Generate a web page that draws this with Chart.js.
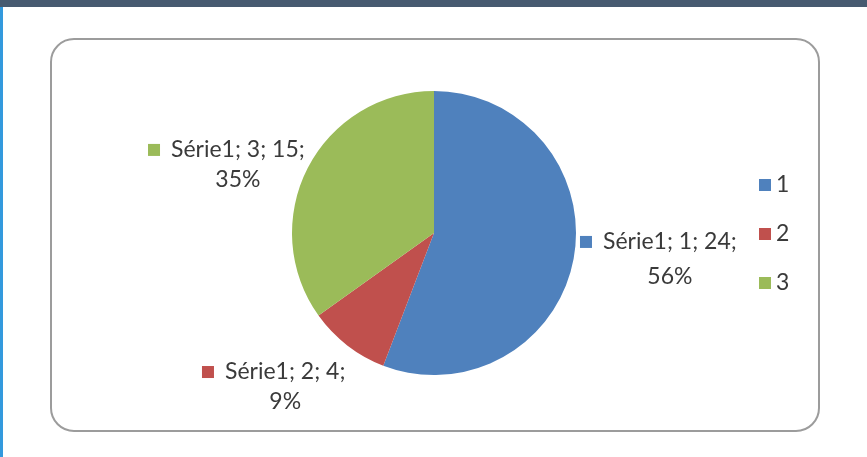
<!DOCTYPE html>
<html>
<head>
<meta charset="utf-8">
<script src="https://cdn.jsdelivr.net/npm/chart.js@4"></script>
<style>
  html,body{margin:0;padding:0;background:#fff;}
  #wrap{position:relative;width:867px;height:457px;overflow:hidden;background:#fff;}
  #topbar{position:absolute;left:0;top:0;width:867px;height:7px;background:#475a70;}
  #side{position:absolute;left:0;top:7px;width:3px;height:450px;background:#3399dd;}
  #frame{position:absolute;left:50px;top:38px;width:766px;height:390px;border:2px solid #9c9c9c;border-radius:24px;}
  canvas{position:absolute;left:0;top:0;}
</style>
</head>
<body>
<div id="wrap">
  <div id="topbar"></div>
  <div id="side"></div>
  <div id="frame"></div>
  <canvas id="chart" width="867" height="457"></canvas>
</div>
<script>
const categories = ["1", "2", "3"];
const values = [24, 4, 15];
const percents = ["56%", "9%", "35%"];
const seriesName = "Série1";
const colors = ["#4f81bd", "#c0504d", "#9bbb59"];

// label anchors relative to pie centre, in units of the radius
const labelPos = [
  { dx: 1.19, dy: 0.063, gap: 35 },
  { dx: -1.472, dy: 0.979, gap: 30 },
  { dx: -1.852, dy: -0.585, gap: 30 }
];

const FONT = "23px Lato";
const TEXT = "#3a3a3a";

const labelPlugin = {
  id: "labels",
  afterDatasetsDraw(chart){
    const ctx = chart.ctx;
    const arcs = chart.getDatasetMeta(0).data;
    ctx.save();
    ctx.font = FONT;
    ctx.textBaseline = "middle";
    arcs.forEach((arc, i)=>{
      const r = arc.outerRadius;
      const lp = labelPos[i];
      const tx = arc.x + lp.dx * r;
      const ty = arc.y + lp.dy * r;
      const line1 = `${seriesName}; ${categories[i]}; ${values[i]};`;
      const w = ctx.measureText(line1).width;
      ctx.fillStyle = colors[i];
      ctx.fillRect(tx - 23, ty - 6, 12, 12);
      ctx.fillStyle = TEXT;
      ctx.textAlign = "left";
      ctx.fillText(line1, tx, ty);
      ctx.textAlign = "center";
      ctx.fillText(percents[i], tx + w/2, ty + lp.gap);
    });

    // legend
    const lx = 759, ly = arcs[0].y - 48;
    categories.forEach((c, i)=>{
      const y = ly + i*49;
      ctx.fillStyle = colors[i];
      ctx.fillRect(lx, y - 6, 12, 12);
      ctx.fillStyle = TEXT;
      ctx.textAlign = "left";
      ctx.fillText(c, lx + 17, y);
    });
    ctx.restore();
  }
};

new Chart(document.getElementById("chart"), {
  type: "pie",
  data: {
    labels: categories,
    datasets: [{ data: values, backgroundColor: colors, borderWidth: 0 }]
  },
  options: {
    responsive: false,
    animation: false,
    events: [],
    layout: { padding: { left: 292, right: 291, top: 91, bottom: 82 } },
    plugins: { legend: { display: false }, tooltip: { enabled: false } }
  },
  plugins: [labelPlugin]
});
</script>
</body>
</html>
